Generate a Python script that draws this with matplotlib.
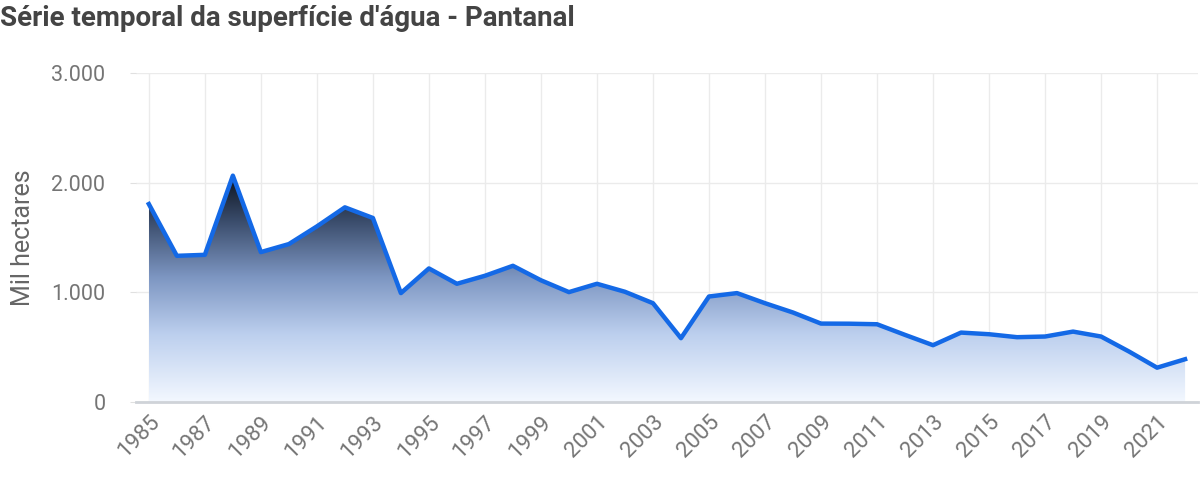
import matplotlib.pyplot as plt
import numpy as np
from matplotlib.colors import LinearSegmentedColormap
from matplotlib.ticker import FuncFormatter

plt.rcParams['font.family'] = ['Roboto', 'DejaVu Sans']

years = list(range(1985, 2023))
area = [1805, 1333, 1342, 2064, 1367, 1440, 1601, 1775, 1678, 993,
        1218, 1078, 1151, 1242, 1110, 1002, 1078, 1005, 901, 582,
        962, 993, 901, 816, 715, 714, 709, 612, 518, 633,
        618, 591, 597, 642, 597, 460, 313, 390]
tick_years = list(range(1985, 2023, 2))
y_ticks = [0, 1000, 2000, 3000]

fig = plt.figure(figsize=(12, 5), dpi=100)
ax = fig.add_axes([0.1133, 0.196, 0.885, 0.658])

xlim = (1984.54, 2022.46)

# gradient fill under the line
cmap = LinearSegmentedColormap.from_list(
    'wat', [(0, '#f3f8ff'), (0.3, '#bccfee'), (0.55, '#7d96c2'),
            (0.8, '#3a4c6b'), (1, '#0b121c')])
ymax = max(area)
grad = np.linspace(0, 1, 256).reshape(-1, 1)
img = ax.imshow(grad, extent=[years[0], years[-1], 0, ymax], origin='lower',
                cmap=cmap, aspect='auto', zorder=1)
poly = ax.fill_between(years, area, 0, color='none', lw=0)
clip = poly.get_paths()[0]
img.set_clip_path(clip, transform=ax.transData)
ax.set_xlim(*xlim)
ax.set_ylim(0, 3000)

ax.plot(years, area, color='#1469e6', lw=3.2, solid_joinstyle='round', zorder=3)

ax.set_xticks(tick_years)
ax.set_xticklabels([str(y) for y in tick_years], rotation=45, ha='right',
                   rotation_mode='anchor', fontsize=16, color='#757575')
ax.set_yticks(y_ticks)
ax.yaxis.set_major_formatter(FuncFormatter(lambda v, p: f'{int(v):,}'.replace(',', '.')))
ax.tick_params(axis='y', labelsize=15.5, labelcolor='#757575', length=4,
               color='#e0e0e0', pad=18)
ax.tick_params(axis='x', length=0, pad=7)

ax.grid(True, color='#ebebeb', lw=1, zorder=0)
ax.set_axisbelow(True)
for s in ['top', 'right', 'left']:
    ax.spines[s].set_visible(False)
ax.spines['bottom'].set_color('#cfd3d8')
ax.spines['bottom'].set_linewidth(2)

ax.set_ylabel('Mil hectares', fontsize=18, color='#666666')
ax.yaxis.set_label_coords(-0.095, 0.5)

fig.text(0.0, 0.963, "Série temporal da superfície d'água - Pantanal",
         fontsize=20, fontweight='bold', color='#444444', ha='left', va='center')

plt.savefig('out.png', dpi=100)
